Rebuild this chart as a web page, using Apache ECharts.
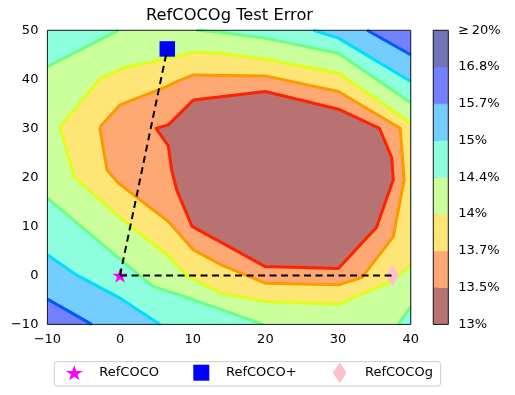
<!DOCTYPE html>
<html><head><meta charset="utf-8">
<script src="https://cdn.jsdelivr.net/npm/echarts@6/dist/echarts.min.js"></script>
<style>html,body{margin:0;padding:0;background:#fff}#c{width:515px;height:395px}</style>
</head><body><div id="c"></div>
<script>
// ---- data ----
const xRange = [-10, 40];
const yRange = [-10, 50];
const cbarLabels = ['13%', '13.5%', '13.7%', '14%', '14.4%', '15%', '15.7%', '16.8%', '\u2265\u200920%'];
const bandColors = ['#b87272', '#fea873', '#fee676', '#caff9c', '#8effdc', '#74ccff', '#7380ff', '#7373b9'];
const lineColors = ['#ff2200', '#ff9900', '#ddff1a', '#6cff88', '#00ddff', '#0058ff'];

const refcoco = [0, 0];
const refcocoPlus = [6.5, 46.2];
const refcocog = [37.5, 0];

// contour lines (data coordinates)
const line13_5 = [[10.1,35.8],[20.0,37.5],[30.05,33.9],[35.7,30.0],[37.4,24.0],[37.6,19.5],[35.3,9.8],[30.05,1.4],[20.0,1.8],[9.9,10.0],[7.8,17.4],[7.1,21.5],[6.64,26.4],[4.95,30.0],[6.64,30.7],[10.1,35.8]];
const line13_7 = [[-2.8,30.2],[0.0,34.8],[6.4,38.5],[8.0,39.7],[10.1,40.9],[20.0,40.7],[30.05,37.5],[38.55,30.0],[39.1,19.5],[37.6,7.9],[33.3,-0.4],[30.05,-1.9],[20.0,-1.6],[14.0,2.1],[10.1,5.2],[8.25,8.3],[6.64,11.0],[-0.2,18.8],[-1.8,21.5],[-2.8,30.2]];
const line14 = [[40,31.1],[30.05,41.3],[20.0,44.1],[13.8,45.3],[10.1,45.5],[5.7,44.0],[0.2,42.2],[-2.8,40.1],[-8.3,30.2],[-6.3,20.0],[1.4,10.0],[6.64,4.0],[9.2,-0.1],[13.8,-3.6],[20.0,-5.35],[30.05,-5.9],[37.4,-1.2],[40,2.1]];
const line14_4a = [[-10,42.6],[-0.25,50]];
const line14_4b = [[10.5,50],[13.8,49.6],[20.0,48.4],[30.05,45.3],[40,35.2]];
const line14_4c = [[-10,15.75],[0.4,2.8],[4.6,-2.3],[8.2,-4.0],[19.7,-10]];
const line14_4d = [[40,-6.4],[38.3,-10]];
const line15a = [[26.6,50],[30.05,48.4],[40,39.55]];
const line15b = [[-10,4.2],[-6.0,0.1],[0.0,-4.65],[5.5,-10]];
const line15_7a = [[34,50],[40,45]];
const line15_7b = [[-10,-4.85],[-3.9,-10]];

// ---- build ----
const X0 = xRange[0], X1 = xRange[1], Y0 = yRange[0], Y1 = yRange[1];
const fillPolys = [
  { band: 6, pts: [[X0,Y0],[X0,Y1],[X1,Y1],[X1,Y0]] },
  { band: 5, pts: [line15_7b[0],[X0,Y1]].concat(line15_7a, [[X1,Y0]], line15_7b.slice(1)) },
  { band: 4, pts: [[X0,Y1]].concat(line15a, [[X1,Y0]], line15b.slice().reverse()) },
  { band: 3, pts: [].concat(line14_4a, line14_4b, line14_4d, line14_4c.slice().reverse()) },
  { band: 2, pts: line14 },
  { band: 1, pts: line13_7 },
  { band: 0, pts: line13_5 }
];
const contourLines = [
  { pts: line15_7a, c: 5 }, { pts: line15_7b, c: 5 },
  { pts: line15a, c: 4 }, { pts: line15b, c: 4 },
  { pts: line14_4a, c: 3 }, { pts: line14_4b, c: 3 }, { pts: line14_4c, c: 3 }, { pts: line14_4d, c: 3 },
  { pts: line14, c: 2 }, { pts: line13_7, c: 1 }, { pts: line13_5, c: 0 }
];

const FONT = 'DejaVu Sans';
const starPath = 'path://M0,-1L0.2245,-0.309L0.951,-0.309L0.363,0.118L0.588,0.809L0,0.382L-0.588,0.809L-0.363,0.118L-0.951,-0.309L-0.2245,-0.309Z';
const squarePath = 'path://M0,0L1,0L1,1L0,1Z';
const diamondPath = 'path://M0.5,0L1,0.5L0.5,1L0,0.5Z';

const series = [];
series.push({
  type: 'custom', xAxisIndex: 0, yAxisIndex: 0, silent: true, clip: true,
  data: fillPolys.map((f, i) => [0, 0, i]),
  renderItem: (params, api) => {
    const f = fillPolys[params.dataIndex];
    return { type: 'polygon', shape: { points: f.pts.map(p => api.coord(p)) },
      style: { fill: bandColors[f.band], stroke: bandColors[f.band], lineWidth: 0.5 } };
  }
});
contourLines.forEach(l => series.push({
  type: 'line', xAxisIndex: 0, yAxisIndex: 0, data: l.pts, showSymbol: false, symbol: 'none',
  silent: true, clip: true, lineStyle: { width: 3, color: lineColors[l.c], join: 'round' }
}));
series.push({ name: 'RefCOCO', type: 'scatter', data: [refcoco], symbol: starPath, symbolKeepAspect: true, symbolSize: 15.5, itemStyle: { color: '#ff00ff', opacity: 1 }, z: 3 });
series.push({ name: 'RefCOCO+', type: 'scatter', data: [refcocoPlus], symbol: 'rect', symbolSize: 15.5, itemStyle: { color: '#0000ff', opacity: 1 }, z: 3 });
series.push({ name: 'RefCOCOg', type: 'scatter', data: [refcocog], symbol: 'diamond', symbolSize: [13, 22], itemStyle: { color: '#ffc0cb', opacity: 1 }, z: 3 });
[[refcoco, refcocoPlus], [refcoco, refcocog]].forEach(seg => series.push({
  type: 'line', data: seg, showSymbol: false, symbol: 'none', silent: true, z: 4,
  lineStyle: { width: 2, color: '#000', type: [7, 4.5] }
}));
series.push({
  type: 'custom', xAxisIndex: 1, yAxisIndex: 1, silent: true,
  data: bandColors.map((c, i) => [0, i]),
  renderItem: (params, api) => {
    const i = params.dataIndex;
    const p0 = api.coord([0, i]), p1 = api.coord([1, i + 1]);
    return { type: 'rect', shape: { x: p0[0], y: p1[1], width: p1[0] - p0[0], height: p0[1] - p1[1] },
      style: { fill: bandColors[i], stroke: bandColors[i], lineWidth: 0.5 } };
  }
});

const minus = v => String(v).replace('-', '\u2212');
const tickStyle = { show: true, inside: false, length: 4.6, lineStyle: { color: '#000', width: 1 } };
const labelStyle = { fontSize: 13, color: '#000', fontFamily: FONT, margin: 9, showMinLabel: true, showMaxLabel: true, formatter: minus };
const legendBase = { padding: 0, selectedMode: false, symbolKeepAspect: false };
const legText = pad => ({ fontSize: 13, color: '#000', fontFamily: FONT, padding: [0, 0, 0, pad] });

const option = {
  animation: false,
  backgroundColor: '#fff',
  title: { text: 'RefCOCOg Test Error', left: 229.5, textAlign: 'center', top: 8, padding: 0,
    textStyle: { fontSize: 16.3, fontWeight: 'normal', color: '#000', fontFamily: FONT } },
  grid: [
    { left: 47.4, right: 104.3, top: 30.3, bottom: 70.6, show: true, borderColor: '#1a1a1a', borderWidth: 1, z: 10, outerBoundsMode: 'none', containLabel: false },
    { left: 433.3, width: 15, top: 30.3, bottom: 70.6, show: true, borderColor: '#1a1a1a', borderWidth: 1, z: 10, outerBoundsMode: 'none', containLabel: false }
  ],
  xAxis: [
    { gridIndex: 0, type: 'value', min: X0, max: X1, interval: 10, axisLine: { show: false }, axisTick: tickStyle, axisLabel: labelStyle, splitLine: { show: false } },
    { gridIndex: 1, type: 'value', min: 0, max: 1, show: false }
  ],
  yAxis: [
    { gridIndex: 0, type: 'value', min: Y0, max: Y1, interval: 10, axisLine: { show: false }, axisTick: tickStyle, axisLabel: labelStyle, splitLine: { show: false } },
    { gridIndex: 1, type: 'value', position: 'right', min: 0, max: 8, interval: 1, axisLine: { show: false }, axisTick: tickStyle,
      axisLabel: Object.assign({}, labelStyle, { margin: 10, formatter: v => cbarLabels[Math.round(v)] }), splitLine: { show: false } }
  ],
  graphic: [{ type: 'rect', shape: { x: 54.3, y: 361.7, width: 386.4, height: 24.3, r: 3 }, style: { fill: '#fff', stroke: '#cccccc', lineWidth: 1 }, z: 0 }],
  legend: [
    Object.assign({}, legendBase, { data: [{ name: 'RefCOCO', icon: starPath }], left: 65.8, top: 365.2, itemWidth: 17, itemHeight: 15, textStyle: legText(11.5) }),
    Object.assign({}, legendBase, { data: [{ name: 'RefCOCO+', icon: squarePath }], left: 193.3, top: 364.7, itemWidth: 16, itemHeight: 16, textStyle: legText(11.7) }),
    Object.assign({}, legendBase, { data: [{ name: 'RefCOCOg', icon: diamondPath }], left: 332.7, top: 362.2, itemWidth: 14, itemHeight: 21, textStyle: legText(13.3) })
  ],
  series: series
};
const chart = echarts.init(document.getElementById('c'), null, { renderer: 'canvas' });
chart.setOption(option);
</script></body></html>
